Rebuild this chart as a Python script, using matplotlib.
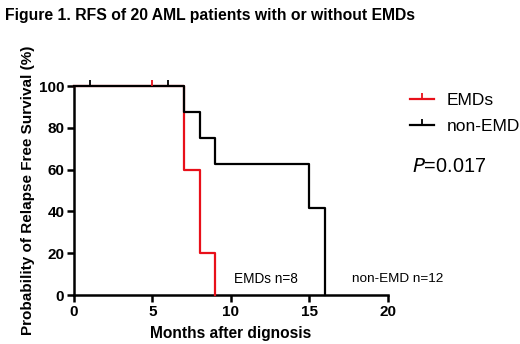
import matplotlib
matplotlib.use("Agg")
import matplotlib.pyplot as plt
from matplotlib.lines import Line2D

plt.rcParams['font.family'] = ['Liberation Sans', 'DejaVu Sans']

# survival steps (months, %)
emd_t = [0, 7, 8, 9]
emd_s = [100, 60, 20, 0]
emd_cens_t = [5]
emd_cens_s = [100]

non_t = [0, 7, 8, 9, 15, 16]
non_s = [100, 87.5, 75, 62.5, 41.7, 0]
non_cens_t = [1, 6]
non_cens_s = [100, 100]

xticks = [0, 5, 10, 15, 20]
yticks = [0, 20, 40, 60, 80, 100]

red = '#e8101a'

fig = plt.figure(figsize=(5.2, 3.44), dpi=100)
ax = fig.add_axes([0.1423, 0.1424, 0.6037, 0.6076])

ax.step(emd_t, emd_s, where='post', color=red, lw=1.6, clip_on=False, zorder=3)
ax.step(non_t, non_s, where='post', color='black', lw=1.6, clip_on=False, zorder=4)
ax.plot(non_cens_t, non_cens_s, ls='none', marker=2, ms=4, mew=1.3, color='black', clip_on=False, zorder=5)
ax.plot(emd_cens_t, emd_cens_s, ls='none', marker=2, ms=4, mew=1.3, color=red, clip_on=False, zorder=5)

ax.set_xlim(0, 20)
ax.set_ylim(0, 100)
ax.set_xticks(xticks)
ax.set_yticks(yticks)
for s in ['top', 'right']:
    ax.spines[s].set_visible(False)
for s in ['left', 'bottom']:
    ax.spines[s].set_linewidth(1.8)
ax.tick_params(width=1.8, length=5, labelsize=11, pad=2)
for lab in ax.get_xticklabels() + ax.get_yticklabels():
    lab.set_fontweight('bold')

ax.set_xlabel('Months after dignosis', fontsize=11.2, fontweight='bold', labelpad=5)
ax.set_ylabel('Probability of Relapse Free Survival (%)', fontsize=11, fontweight='bold', labelpad=3)

ax.text(12.2, 7.7, 'EMDs n=8', fontsize=9.8, ha='center', va='center')
ax.text(20.6, 7.7, 'non-EMD n=12', fontsize=9.7, ha='center', va='center')

handles = [Line2D([0], [0], color=red, lw=1.6, marker=2, ms=4, mew=1.3),
           Line2D([0], [0], color='black', lw=1.6, marker=2, ms=4, mew=1.3)]
fig.legend(handles, ['EMDs', 'non-EMD'], loc='upper left', bbox_to_anchor=(0.775, 0.75),
           frameon=False, fontsize=12.5, handlelength=1.4, handletextpad=0.7,
           labelspacing=0.6, numpoints=1, borderaxespad=0)
fig.text(0.792, 0.515, '$P$=0.017', fontsize=14.3, ha='left', va='center')

fig.text(0.01, 0.955, 'Figure 1. RFS of 20 AML patients with or without EMDs',
         fontsize=11.3, fontweight='bold', ha='left', va='center')

fig.savefig('out.png', dpi=100)
